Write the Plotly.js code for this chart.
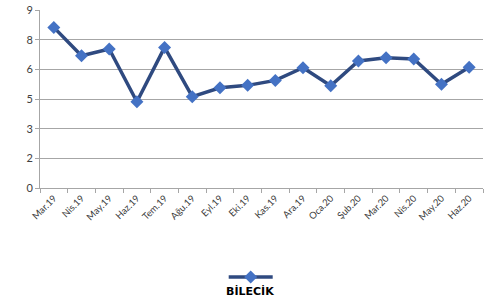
<!DOCTYPE html>
<html>
<head>
<meta charset="utf-8">
<script src="https://cdn.plot.ly/plotly-3.0.1.min.js"></script>
<style>html,body{margin:0;padding:0;background:#fff;}#chart{width:496px;height:305px;}</style>
</head>
<body>
<div id="chart"></div>
<script>
var categories = ["Mar.19","Nis.19","May.19","Haz.19","Tem.19","Ağu.19","Eyl.19","Eki.19","Kas.19","Ara.19","Oca.20","Şub.20","Mar.20","Nis.20","May.20","Haz.20"];
var values = [8.12, 6.69, 7.03, 4.36, 7.11, 4.62, 5.07, 5.19, 5.44, 6.08, 5.17, 6.42, 6.59, 6.52, 5.24, 6.10];
var seriesName = "BİLECİK";
var yTickVals = [0, 1.5, 3, 4.5, 6, 7.5, 9];
var yTickText = ["0", "2", "3", "5", "6", "8", "9"];

var trace = {
  x: categories,
  y: values,
  type: "scatter",
  mode: "lines+markers",
  name: "",
  showlegend: true,
  line: {color: "#2F4A80", width: 3.5},
  marker: {symbol: "diamond", size: 10, color: "#4472C4", line: {width: 0}}
};

var layout = {
  width: 496, height: 305,
  margin: {l: 40, r: 13, t: 10, b: 117},
  paper_bgcolor: "#fff", plot_bgcolor: "#fff",
  font: {family: "Lato, 'Liberation Sans', sans-serif", color: "#404040"},
  xaxis: {
    type: "category",
    automargin: false,
    tickangle: -45,
    tickson: "boundaries",
    ticks: "outside", ticklen: 4, tickcolor: "#A6A6A6",
    showline: true, linecolor: "#A6A6A6", linewidth: 1,
    showgrid: false,
    tickfont: {size: 9.5, color: "#404040"},
    range: [-0.5, 15.5]
  },
  yaxis: {
    automargin: false,
    range: [0, 9],
    tickvals: yTickVals, ticktext: yTickText,
    ticks: "outside", ticklen: 4, tickcolor: "#A6A6A6",
    showline: true, linecolor: "#A6A6A6", linewidth: 1,
    showgrid: true, gridcolor: "#A6A6A6", gridwidth: 1,
    zeroline: false,
    tickfont: {size: 11, color: "#404040"}
  },
  showlegend: true,
  legend: {
    orientation: "h",
    xref: "container", yref: "container",
    x: 0.451, y: 0.092, xanchor: "left", yanchor: "middle",
    itemwidth: 44,
    bgcolor: "rgba(0,0,0,0)",
    font: {size: 10}
  },
  annotations: [{
    text: "<b>" + seriesName + "</b>",
    xref: "paper", yref: "paper",
    x: 0.473, y: -0.579, xanchor: "center", yanchor: "middle",
    showarrow: false,
    font: {size: 11, color: "#000", family: "'DejaVu Sans', sans-serif"}
  }]
};

Plotly.newPlot("chart", [trace], layout, {displayModeBar: false, staticPlot: true});
</script>
</body>
</html>
